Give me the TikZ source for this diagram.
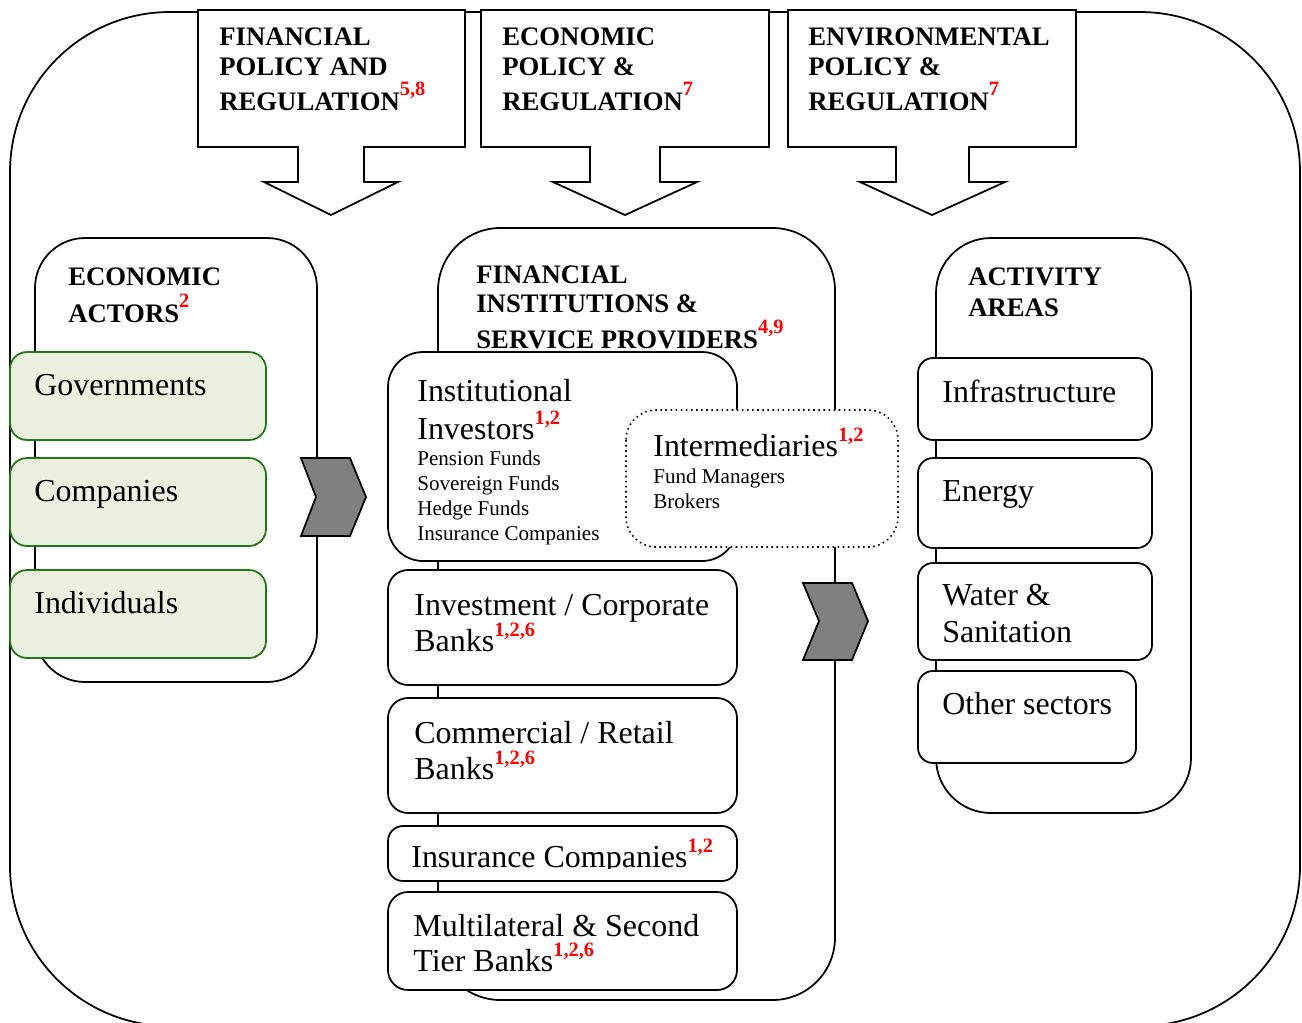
\documentclass[tikz,border=0pt]{standalone}
\usepackage{fontspec}
\setmainfont{Liberation Serif}
\definecolor{actgreen}{RGB}{34,120,24}
\definecolor{actfill}{RGB}{235,241,222}
\definecolor{chevgray}{RGB}{128,128,128}
% red reference numbers set as raised superscripts
\newcommand{\fnref}[1]{\raisebox{8.3pt}{\fontsize{11.6}{12}\selectfont\bfseries\color{red}#1}}
\begin{document}
\begin{tikzpicture}[x=0.02cm,y=-0.02cm,
  frame/.style={draw=black, line width=1pt, fill=white},
  callout/.style={draw=black, line width=1pt, fill=white, line join=miter},
  hd/.style={anchor=base west, inner sep=0, font=\fontsize{15.2}{16}\selectfont\bfseries},
  big/.style={anchor=base west, inner sep=0, font=\fontsize{18.2}{20}\selectfont},
  small/.style={anchor=base west, inner sep=0, font=\fontsize{12}{13}\selectfont},
  greenbox/.style={draw=actgreen, fill=actfill, line width=1pt, rounded corners=0.34cm},
  chev/.style={draw=black, fill=chevgray, line width=1pt, line join=miter}]

\useasboundingbox (0,0) rectangle (1302,1022);
\fill[white] (0,0) rectangle (1302,1022);

% outer frame
\draw[frame, rounded corners=3.2cm] (10,12) rectangle (1300,1026);

% policy callouts with down arrows
\draw[callout] (198,10) -- (465,10) -- (465,147) -- (364,147) -- (364,182) -- (398,182)
  -- (331,215) -- (264,182) -- (298,182) -- (298,147) -- (198,147) -- cycle;
\draw[callout] (481,10) -- (769,10) -- (769,147) -- (660,147) -- (660,182) -- (697,182)
  -- (625,215) -- (553,182) -- (590,182) -- (590,147) -- (481,147) -- cycle;
\draw[callout] (788,10) -- (1076,10) -- (1076,147) -- (969,147) -- (969,182) -- (1005,182)
  -- (932,215) -- (860,182) -- (896,182) -- (896,147) -- (788,147) -- cycle;

\node[hd] (fp1) at (219,45) {FINANCIAL};
\node[hd] (fp2) at (219,75) {POLICY AND};
\node[hd] (fp3) at (219,110) {REGULATION\fnref{5,8}};
\node[hd] (ep1) at (502,45) {ECONOMIC};
\node[hd] (ep2) at (502,75) {POLICY \&};
\node[hd] (ep3) at (502,110) {REGULATION\fnref{7}};
\node[hd] (vp1) at (808,45) {ENVIRONMENTAL};
\node[hd] (vp2) at (808,75) {POLICY \&};
\node[hd] (vp3) at (808,110) {REGULATION\fnref{7}};

% economic actors
\draw[frame, rounded corners=1cm] (35,238) rectangle (317,682);
\node[hd] (ea1) at (68,285) {ECONOMIC};
\node[hd] (ea2) at (68,322) {ACTORS\fnref{2}};
\draw[greenbox] (10,352) rectangle (266,440);
\draw[greenbox] (10,458) rectangle (266,546);
\draw[greenbox] (10,570) rectangle (266,658);
\node[big] (gov) at (34,395) {Governments};
\node[big] (com) at (34,501) {Companies};
\node[big] (ind) at (34,613) {Individuals};

% financial institutions and service providers
\draw[frame, rounded corners=1.25cm] (438,228) rectangle (835,1000);
\node[hd] (fi1) at (476,283) {FINANCIAL};
\node[hd] (fi2) at (476,312) {INSTITUTIONS \&};
\node[hd] (fi3) at (476,348) {SERVICE PROVIDERS\fnref{4,9}};

\draw[frame, rounded corners=0.7cm] (388,352) rectangle (737,561);
\node[big] (ii1) at (417,401) {Institutional};
\node[big] (ii2) at (417,439) {Investors\fnref{1,2}};
\node[small] (ii3) at (417,465) {Pension Funds};
\node[small] (ii4) at (417,490) {Sovereign Funds};
\node[small] (ii5) at (417,515) {Hedge Funds};
\node[small] (ii6) at (417,540) {Insurance Companies};

\draw[fill=white, draw=black, dotted, line width=0.9pt, rounded corners=0.6cm] (626,410) rectangle (898,547);
\node[big] (im1) at (653,456) {Intermediaries\fnref{1,2}};
\node[small] (im2) at (653,483) {Fund Managers};
\node[small] (im3) at (653,508) {Brokers};

\draw[frame, rounded corners=0.4cm] (388,570) rectangle (737,685);
\node[big] (ib1) at (414,615) {Investment / Corporate};
\node[big] (ib2) at (414,651) {Banks\fnref{1,2,6}};

\draw[frame, rounded corners=0.4cm] (388,698) rectangle (737,813);
\node[big] (cb1) at (414,743) {Commercial / Retail};
\node[big] (cb2) at (414,779) {Banks\fnref{1,2,6}};

\draw[frame, rounded corners=0.3cm] (388,826) rectangle (737,881);
\begin{scope}
  \clip (390,800) rectangle (735,868);
  \node[big] (ic) at (411,867) {Insurance Companies\fnref{1,2}};
\end{scope}

\draw[frame, rounded corners=0.4cm] (388,892) rectangle (737,990);
\node[big] (mb1) at (413,936) {Multilateral \& Second};
\node[big] (mb2) at (413,971) {Tier Banks\fnref{1,2,6}};

% activity areas
\draw[frame, rounded corners=1.1cm] (936,238) rectangle (1191,813);
\node[hd] (aa1) at (968,285) {ACTIVITY};
\node[hd] (aa2) at (968,316) {AREAS};
\draw[frame, rounded corners=0.3cm] (918,358) rectangle (1152,440);
\draw[frame, rounded corners=0.3cm] (918,458) rectangle (1152,548);
\draw[frame, rounded corners=0.3cm] (918,563) rectangle (1152,660);
\draw[frame, rounded corners=0.3cm] (918,671) rectangle (1136,763);
\node[big] (inf) at (942,402) {Infrastructure};
\node[big] (eng) at (942,501) {Energy};
\node[big] (ws1) at (942,605) {Water \&};
\node[big] (ws2) at (942,642) {Sanitation};
\node[big] (oth) at (942,714) {Other sectors};

% flow chevrons
\draw[chev] (301,458) -- (350,458) -- (366,497) -- (350,536) -- (301,536) -- (316,497) -- cycle;
\draw[chev] (803,583) -- (852,583) -- (868,621) -- (852,660) -- (803,660) -- (819,621) -- cycle;
\end{tikzpicture}
\end{document}
